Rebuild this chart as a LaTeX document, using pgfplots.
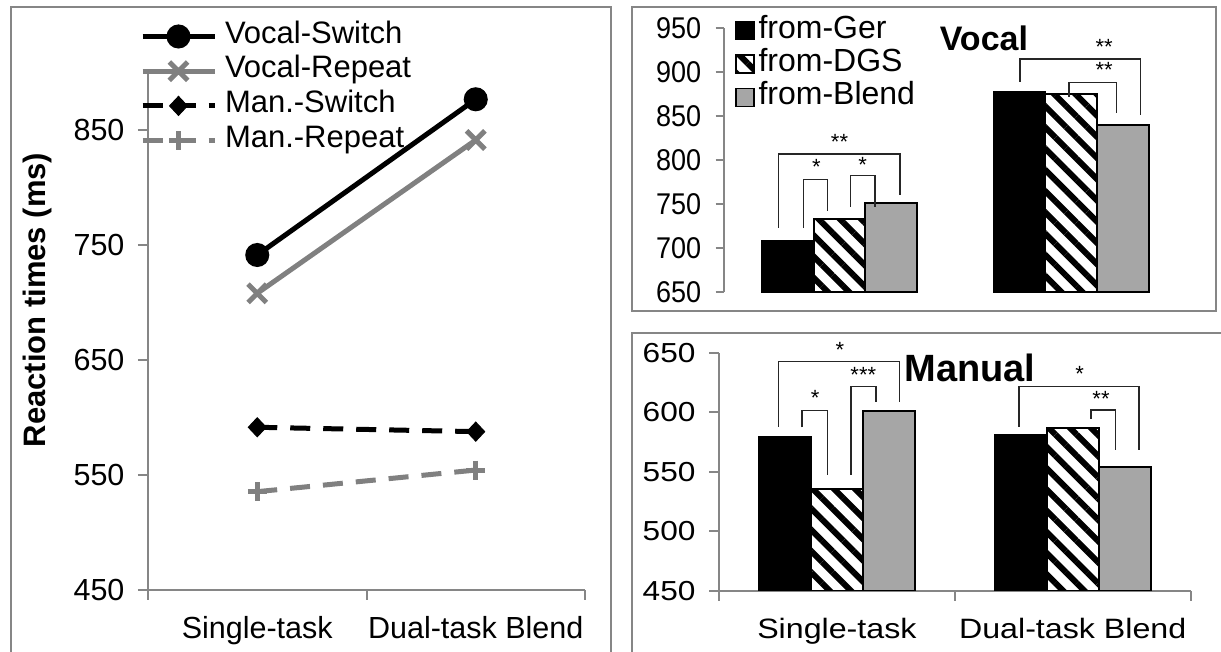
\documentclass[border=0pt]{standalone}
\usepackage{fontspec}
\setmainfont{Liberation Sans}
\newfontfamily\topfont{Liberation Sans}[FakeStretch=0.9]
\newfontfamily\botfont{Liberation Sans}[FakeStretch=1.15]
\usepackage{pgfplots}
\pgfplotsset{compat=1.18}
\usetikzlibrary{patterns.meta}
\definecolor{axgray}{RGB}{134,134,134}
\definecolor{lgray}{RGB}{128,128,128}
\definecolor{bargray}{RGB}{166,166,166}
\newcommand\fs[1]{\fontsize{#1pt}{#1pt}\selectfont}
\tikzset{hatch/.style={pattern={Lines[angle=-45,distance=15pt,line width=6pt]}, pattern color=black},
  brk/.style={black!85, line width=1.5pt},
  ast/.style={font=\fs{22}, anchor=base, yshift=-12.5pt, inner sep=0pt}}
\pgfplotsset{sqlegend/.style={legend image code/.code={\draw[##1, line width=1.5pt] (0pt,-9pt) rectangle (18pt,9pt);}}}
\begin{document}
\begin{tikzpicture}
\path[use as bounding box] (0pt,0pt) rectangle (1221pt,652pt);
% panel frames
\draw[axgray, line width=2pt] (11pt,0pt) -- (11pt,645pt) -- (611pt,645pt) -- (611pt,0pt);
\draw[axgray, line width=2pt] (632pt,341pt) rectangle (1216pt,645pt);
\draw[axgray, line width=2pt] (1221pt,319pt) -- (632pt,319pt) -- (632pt,0pt);

% ---------------- left: line chart ----------------
\begin{axis}[
  at={(148pt,62pt)}, anchor=south west, scale only axis,
  width=437pt, height=517.5pt,
  xmin=-0.5, xmax=1.5, ymin=450, ymax=900,
  axis x line*=bottom, axis y line*=left,
  axis line style={draw=axgray, line width=2pt, -},
  tick style={draw=axgray, line width=2pt},
  tick align=outside, major tick length=10pt,
  ytick={450,550,650,750,850},
  yticklabel={\pgfmathprintnumber{\tick}},
  xtick={-0.5,0.5,1.5}, xticklabels={},
  extra x ticks={0,1}, extra x tick labels={Single-task,Dual-task Blend},
  extra x tick style={major tick length=0pt, xticklabel style={anchor=base, yshift=-49pt}},
  tick label style={font=\fs{30.5}},
  /pgf/number format/assume math mode=true,
  yticklabel style={xshift=-10pt},
  ylabel={Reaction times (ms)},
  every axis y label/.style={at={(axis description cs:-0.254,0.5604)}, rotate=90, anchor=center},
  ylabel style={font=\bfseries\fs{31}},
  clip=false,
  legend style={at={(axis description cs:-0.0183,1.1031)}, anchor=north west, draw=none, fill=none,
    inner sep=0pt, outer sep=0pt, row sep=0pt, font=\fs{31},
    nodes={inner sep=0pt, text height=24pt, text depth=10.7pt},
    /tikz/every odd column/.append style={column sep=8pt}},
  legend cell align=left,
  legend image code/.code={\draw[mark repeat=2,mark phase=2,#1] plot coordinates {(0pt,0pt) (36pt,0pt) (72pt,0pt)};},
]
\addplot[black, line width=5pt, mark=*, mark size=9.5pt, mark options={solid}] coordinates {(0,741.3) (1,876.7)};
\addlegendentry{Vocal-Switch}
\addplot[lgray, line width=5pt, mark=x, mark size=13pt, mark options={solid, line width=5pt}] coordinates {(0,708) (1,841.3)};
\addlegendentry{Vocal-Repeat}
\addplot[black, line width=5pt, dash pattern=on 20pt off 13pt, mark=diamond*, mark size=9.5pt, mark options={solid, xscale=1.25, line width=1pt}] coordinates {(0,591.5) (1,587.7)};
\addlegendentry{Man.-Switch}
\addplot[lgray, line width=5pt, dash pattern=on 20pt off 13pt, mark=+, mark size=9.5pt, mark options={solid, line width=5pt}] coordinates {(0,535.5) (1,554.3)};
\addlegendentry{Man.-Repeat}
\end{axis}

% ---------------- top right: Vocal ----------------
\begin{axis}[
  at={(723.6pt,359.7pt)}, anchor=south west, scale only axis,
  width=463.6pt, height=264pt,
  xmin=-0.5, xmax=1.5, ymin=650, ymax=950,
  axis x line=none, axis y line*=left,
  axis line style={draw=axgray, line width=2pt, -},
  tick style={draw=axgray, line width=2pt},
  tick align=outside, major tick length=8pt,
  ytick={650,700,750,800,850,900,950},
  yticklabel={\pgfmathprintnumber{\tick}},
  tick label style={font=\topfont\fs{30}},
  /pgf/number format/assume math mode=true,
  yticklabel style={xshift=-11pt},
  ybar=0pt, bar width=51.7pt,
  clip mode=individual,
  legend style={at={(axis description cs:0.0246,1.054)}, anchor=north west, draw=none, fill=none,
    inner sep=0pt, outer sep=0pt, row sep=0pt, font=\fs{32},
    nodes={inner sep=0pt, text height=24pt, text depth=9.3pt},
    /tikz/every odd column/.append style={column sep=4pt}},
  legend cell align=left,
]
\addplot[fill=black, draw=black, line width=2pt, sqlegend] coordinates {(0,708.3) (1,878)};
\addlegendentry{from-Ger}
\addplot[fill=white, draw=black, line width=2pt, hatch, sqlegend] coordinates {(0,733) (1,875.3)};
\addlegendentry{from-DGS}
\addplot[fill=bargray, draw=black, line width=2pt, sqlegend] coordinates {(0,751.8) (1,840.1)};
\addlegendentry{from-Blend}
\draw[brk] (axis cs:-0.263,723.4) -- (axis cs:-0.263,807.2) -- (axis cs:0.260,807.2) -- (axis cs:0.260,760.6);
\node[ast] at (axis cs:0.0,826.5) {**};
\draw[brk] (axis cs:-0.155,723) -- (axis cs:-0.155,778.4) -- (axis cs:-0.052,778.4) -- (axis cs:-0.052,742.7);
\node[ast] at (axis cs:-0.10,798) {*};
\draw[brk] (axis cs:0.048,747) -- (axis cs:0.048,782.5) -- (axis cs:0.154,782.5) -- (axis cs:0.154,747);
\node[ast] at (axis cs:0.10,800) {*};
\draw[brk] (axis cs:0.779,889.3) -- (axis cs:0.779,915.1) -- (axis cs:1.298,915.1) -- (axis cs:1.298,851.5);
\node[ast] at (axis cs:1.142,934.8) {**};
\draw[brk] (axis cs:0.990,872.3) -- (axis cs:0.990,888.2) -- (axis cs:1.196,888.2) -- (axis cs:1.196,853.4);
\node[ast] at (axis cs:1.142,908.3) {**};
\node[font=\bfseries\fs{34}, inner sep=0pt] at (axis cs:0.623,938.6) {Vocal};
\end{axis}

% ---------------- bottom right: Manual ----------------
\begin{axis}[
  at={(719pt,61pt)}, anchor=south west, scale only axis,
  width=471.6pt, height=238.3pt,
  xmin=-0.5, xmax=1.5, ymin=450, ymax=650,
  axis x line*=bottom, axis y line*=left,
  axis line style={draw=axgray, line width=2pt, -},
  tick style={draw=axgray, line width=2pt},
  tick align=outside, major tick length=10pt,
  ytick={450,500,550,600,650},
  yticklabel={\pgfmathprintnumber{\tick}},
  xtick={-0.5,0.5,1.5}, xticklabels={},
  extra x ticks={0,1}, extra x tick labels={Single-task,Dual-task Blend},
  extra x tick style={major tick length=0pt, xticklabel style={anchor=base, yshift=-48pt, font=\botfont\fs{28}}},
  tick label style={font=\botfont\fs{27.5}},
  /pgf/number format/assume math mode=true,
  yticklabel style={xshift=-10pt},
  ybar=0pt, bar width=52pt,
  clip mode=individual,
]
\addplot[fill=black, draw=black, line width=2pt] coordinates {(0,579.5) (1,580.9)};
\addplot[fill=white, draw=black, line width=2pt, hatch] coordinates {(0,535.6) (1,587)};
\addplot[fill=bargray, draw=black, line width=2pt] coordinates {(0,601.3) (1,554.3)};
\draw[brk] (axis cs:-0.247,587.9) -- (axis cs:-0.247,642.4) -- (axis cs:0.265,642.4) -- (axis cs:0.265,608.4);
\node[ast] at (axis cs:0.013,656.5) {*};
\draw[brk] (axis cs:-0.148,587.4) -- (axis cs:-0.148,601.3) -- (axis cs:-0.040,601.3) -- (axis cs:-0.040,547.4);
\node[ast] at (axis cs:-0.092,616.4) {*};
\draw[brk] (axis cs:0.059,547.4) -- (axis cs:0.059,621.5) -- (axis cs:0.165,621.5) -- (axis cs:0.165,608.4);
\node[ast] at (axis cs:0.112,635.5) {***};
\draw[brk] (axis cs:0.773,587.9) -- (axis cs:0.773,621.5) -- (axis cs:1.282,621.5) -- (axis cs:1.282,568.3);
\node[ast] at (axis cs:1.029,636) {*};
\draw[brk] (axis cs:1.078,594.4) -- (axis cs:1.078,601.9) -- (axis cs:1.182,601.9) -- (axis cs:1.182,568.3);
\node[ast] at (axis cs:1.12,615.3) {**};
\node[font=\bfseries\fs{38}, inner sep=0pt] at (axis cs:0.564,637.2) {Manual};
\end{axis}
\end{tikzpicture}
\end{document}
